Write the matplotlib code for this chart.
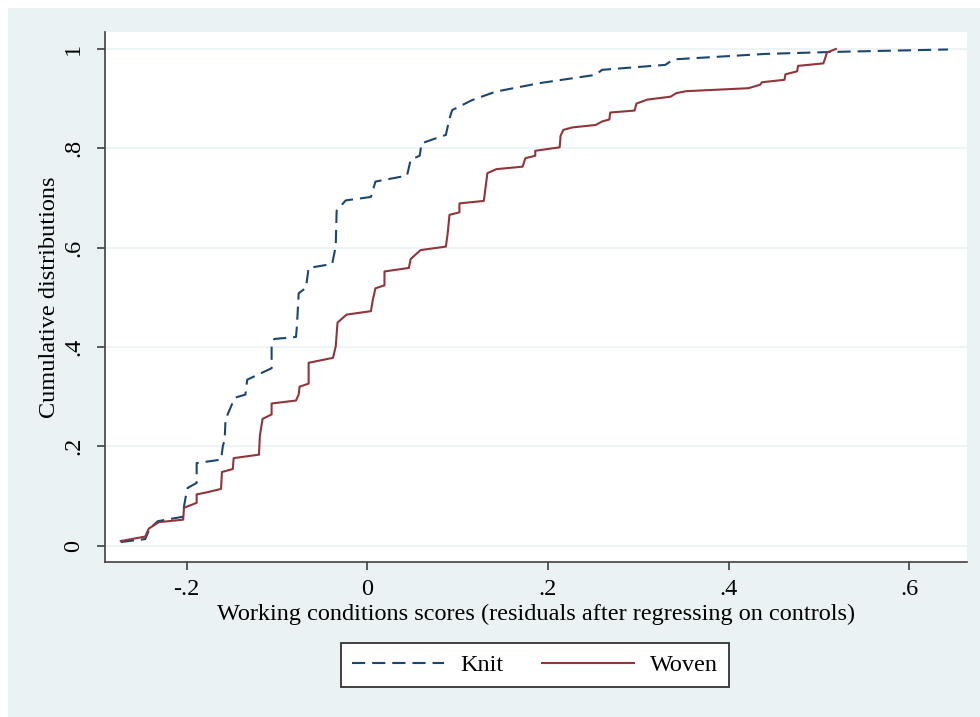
import matplotlib
matplotlib.use("Agg")
from matplotlib import pyplot as plt
from matplotlib.patches import Rectangle

plt.rcParams['font.family'] = ['Liberation Serif', 'DejaVu Serif']
plt.rcParams['lines.scale_dashes'] = False

# Knit cumulative distribution
knit_x = [-0.273, -0.246, -0.241, -0.232, -0.204, -0.203, -0.201, -0.199, -0.189, -0.189,
          -0.162, -0.160, -0.158, -0.157, -0.150, -0.146, -0.135, -0.133, -0.106, -0.106,
          -0.103, -0.079, -0.078, -0.076, -0.068, -0.065, -0.039, -0.035, -0.034, -0.024,
          0.004, 0.009, 0.044, 0.048, 0.058, 0.060, 0.087, 0.091, 0.094, 0.116,
          0.142, 0.190, 0.253, 0.260, 0.330, 0.339, 0.440, 0.514, 0.643]
knit_y = [0.007, 0.013, 0.034, 0.049, 0.058, 0.079, 0.099, 0.116, 0.126, 0.166,
          0.173, 0.200, 0.213, 0.254, 0.284, 0.298, 0.304, 0.334, 0.357, 0.401,
          0.416, 0.420, 0.441, 0.508, 0.519, 0.559, 0.567, 0.602, 0.674, 0.695,
          0.702, 0.733, 0.745, 0.777, 0.785, 0.810, 0.827, 0.860, 0.877, 0.897,
          0.914, 0.931, 0.948, 0.958, 0.968, 0.979, 0.990, 0.994, 0.999]

# Woven cumulative distribution
woven_x = [-0.273, -0.246, -0.242, -0.231, -0.204, -0.203, -0.189, -0.189, -0.178, -0.162,
           -0.161, -0.149, -0.148, -0.120, -0.119, -0.116, -0.106, -0.106, -0.079, -0.076,
           -0.075, -0.065, -0.065, -0.038, -0.035, -0.033, -0.023, 0.004, 0.006, 0.009,
           0.019, 0.019, 0.046, 0.048, 0.059, 0.087, 0.089, 0.091, 0.102, 0.102,
           0.129, 0.133, 0.143, 0.172, 0.175, 0.186, 0.186, 0.213, 0.214, 0.217,
           0.227, 0.253, 0.260, 0.268, 0.269, 0.296, 0.298, 0.310, 0.336, 0.342,
           0.353, 0.422, 0.435, 0.437, 0.462, 0.463, 0.476, 0.477, 0.505, 0.507,
           0.509, 0.519]
woven_y = [0.009, 0.018, 0.034, 0.047, 0.052, 0.076, 0.086, 0.103, 0.107, 0.114,
           0.148, 0.154, 0.176, 0.183, 0.221, 0.255, 0.264, 0.286, 0.292, 0.304,
           0.320, 0.326, 0.368, 0.378, 0.401, 0.449, 0.465, 0.472, 0.494, 0.518,
           0.524, 0.552, 0.559, 0.577, 0.595, 0.602, 0.629, 0.666, 0.671, 0.689,
           0.694, 0.750, 0.758, 0.763, 0.780, 0.785, 0.795, 0.802, 0.825, 0.837,
           0.842, 0.847, 0.854, 0.858, 0.872, 0.876, 0.890, 0.898, 0.904, 0.911,
           0.915, 0.921, 0.928, 0.933, 0.938, 0.949, 0.955, 0.966, 0.971, 0.981,
           0.993, 1.000]

x_ticks = [-0.2, 0, 0.2, 0.4, 0.6]
x_tick_labels = ["-.2", "0", ".2", ".4", ".6"]
y_ticks = [0, 0.2, 0.4, 0.6, 0.8, 1]
y_tick_labels = ["0", ".2", ".4", ".6", ".8", "1"]

bg = "#eaf2f3"
fs = 17.5

fig = plt.figure(figsize=(9.8, 7.17), dpi=100, facecolor="white")
# Stata-style outer region (image is cropped with a thin white margin top/left)
fig.patches.append(Rectangle((8 / 980, 0), 1, 1 - 8 / 717, transform=fig.transFigure,
                             facecolor=bg, edgecolor="none", zorder=-10))

ax = fig.add_axes([105 / 980, 1 - 562 / 717, 862 / 980, 530 / 717])
ax.set_facecolor("white")

ax.plot(knit_x, knit_y, color="#1a476f", lw=1.5, dashes=(9.5, 5), label="Knit", zorder=3)
ax.plot(woven_x, woven_y, color="#90353b", lw=1.5, label="Woven", zorder=3)

ax.set_xlim(-0.2905, 0.6641)
ax.set_ylim(-0.0332, 1.0342)
ax.set_xticks(x_ticks, x_tick_labels, fontsize=fs)
ax.set_yticks(y_ticks, y_tick_labels, fontsize=fs, rotation=90, va="center")
ax.grid(axis="y", color=bg, lw=1.2, zorder=0)

for side in ["top", "right"]:
    ax.spines[side].set_visible(False)
for side in ["left", "bottom"]:
    ax.spines[side].set_color("#404040")
    ax.spines[side].set_linewidth(1.2)
ax.tick_params(axis="both", direction="out", length=6, width=1.2, color="#404040")
ax.tick_params(axis="x", pad=6)
ax.tick_params(axis="y", pad=9)

ax.set_xlabel("Working conditions scores (residuals after regressing on controls)", fontsize=fs)
ax.xaxis.set_label_coords(0.5, -0.098)
ax.xaxis.label.set_va("center")
ax.set_ylabel("Cumulative distributions", fontsize=fs)
ax.yaxis.set_label_coords(-0.064, 0.5)
ax.yaxis.label.set_va("center")

leg = fig.legend(loc="center", bbox_to_anchor=(535 / 980, 1 - 665 / 717), ncol=2,
                 fontsize=fs, frameon=True, fancybox=False, handlelength=3.8,
                 handletextpad=0.66, columnspacing=1.56, borderpad=0.45)
leg.get_frame().set_edgecolor("#333333")
leg.get_frame().set_linewidth(1.3)
leg.get_frame().set_facecolor("white")
leg.get_frame().set_alpha(1)

fig.savefig("out.png", dpi=100, facecolor=fig.get_facecolor())
